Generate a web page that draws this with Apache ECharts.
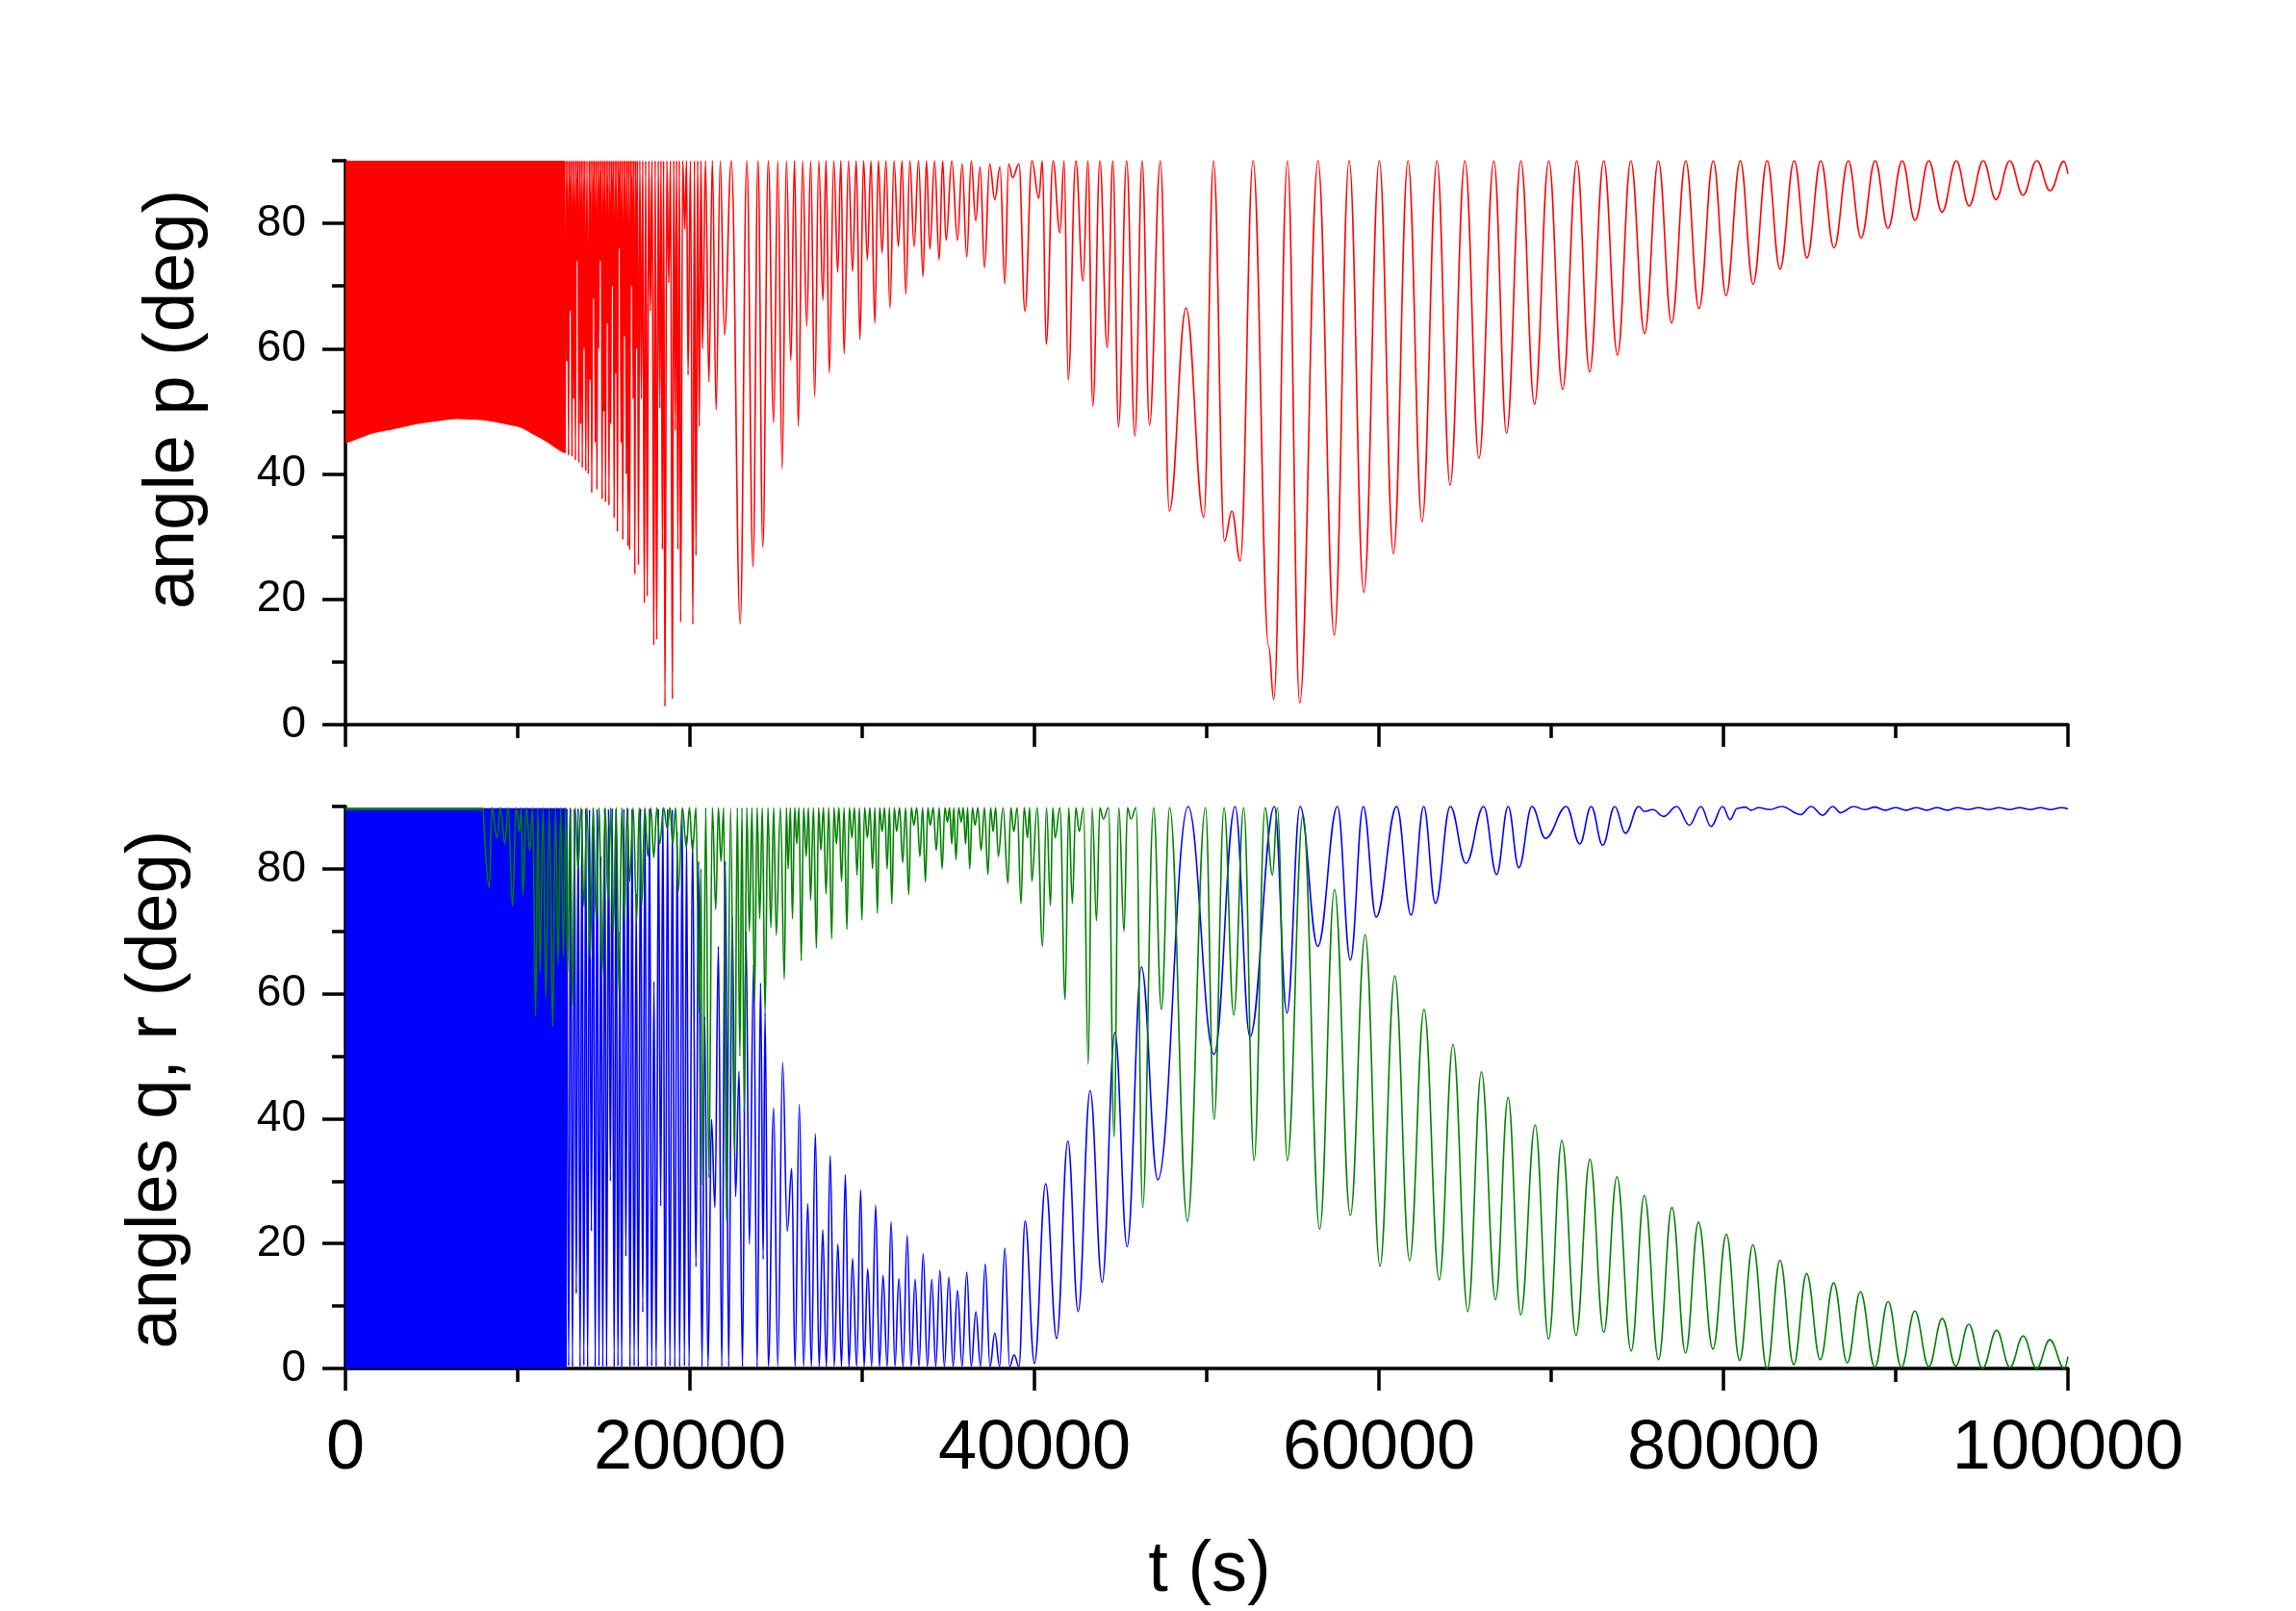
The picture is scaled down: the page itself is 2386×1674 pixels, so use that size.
<!DOCTYPE html>
<html><head><meta charset="utf-8">
<script src="https://cdn.jsdelivr.net/npm/echarts@6/dist/echarts.min.js"></script>
<style>html,body{margin:0;padding:0;background:#fff}#c{width:2386px;height:1674px}</style>
</head><body><div id="c"></div>
<script>
// ---- tick values ----
const xTicks = [0, 20000, 40000, 60000, 80000, 100000];
const yTicks = [0, 20, 40, 60, 80];
const yMinorTicks = [10, 30, 50, 70, 90];

// ---- angle p (red) ----
// lower envelope of the unresolved fast oscillation (fills up to 90)
const redBandLow = [0,45.0, 800,45.8, 1600,46.6, 2700,47.2, 4000,48.0, 5200,48.5, 6400,48.9, 7500,48.8, 8500,48.5, 9400,48.0, 10200,47.5, 11000,46.3, 11600,45.4, 12300,44.1, 12750,43.4];
// resolved extrema (t, value)
const redWave = [12750,43.4, 12800,90, 12850,58, 12900,90, 12950,43, 13000,90, 13050,66, 13100,90, 13150,42.8, 13200,90, 13250,52, 13300,90, 13350,42.2, 13400,90, 13450,74, 13500,90, 13550,41.8, 13600,90, 13650,48, 13700,90, 13750,41, 13800,90, 13850,60, 13900,90, 13950,40.5, 14020,90, 14100,40, 14150,90, 14200,55, 14250,90, 14300,37, 14350,90, 14400,68, 14450,90, 14500,45, 14550,90, 14600,37.5, 14650,90, 14700,60, 14750,90, 14800,74, 14850,90, 14900,36, 14950,90, 15000,50, 15050,90, 15100,35.5, 15150,90, 15200,64, 15250,90, 15300,35, 15350,90, 15400,48, 15450,90, 15500,70, 15550,90, 15600,33, 15650,90, 15700,56, 15745,90, 15790,30.8, 15845,90, 15900,76, 15950,90, 16000,45, 16050,90, 16100,29.5, 16150,90, 16200,62, 16250,90, 16300,40, 16350,90, 16400,28.5, 16450,90, 16500,27.9, 16550,90, 16600,70, 16650,90, 16700,52, 16750,90, 16800,24, 16850,90, 16900,60, 16955,90, 17010,25.5, 17090,90, 17180,52, 17260,90, 17350,19.4, 17430,90, 17520,20.5, 17610,90, 17700,66, 17800,90, 17900,12.7, 17980,90, 18070,13.6, 18160,90, 18250,50.5, 18320,90, 18400,28, 18470,90, 18550,2.9, 18660,90, 18770,70.5, 18870,90, 18980,4.1, 19060,90, 19150,47, 19220,90, 19300,28, 19380,90, 19460,16.4, 19580,90, 19700,79, 19800,90, 19890,55.8, 20030,90, 20170,16, 20260,90, 20350,27, 20450,90, 20540,47.6, 20640,90, 20730,60, 20900,90, 21100,54.7, 21300,90, 21520,50.2, 21760,90, 22000,62.2, 22400,90, 22920,16.1, 23300,90, 23660,25.2, 23950,90, 24230,28.3, 24550,90, 24860,48.2, 25100,90, 25350,40.8, 25600,90, 25860,58.1, 26070,90, 26290,47.6, 26540,90, 26780,63.6, 27010,90, 27240,52.3, 27480,90, 27720,67.7, 27900,90, 28090,56.1, 28350,90, 28580,72.2, 28760,90, 28950,59.2, 29200,90, 29440,72.3, 29650,90, 29870,61.5, 30080,90, 30300,74.2, 30510,90, 30730,64.1, 30940,90, 31150,75.3, 31380,90, 31610,66.5, 31850,90, 32100,76.3, 32310,90, 32530,68.7, 32770,90, 33010,76.3, 33270,90, 33530,71.5, 33730,90, 33930,75.9, 34200,90, 34470,74.2, 34670,90, 34870,77.3, 35200,90, 35530,77.3, 35800,89.5, 36070,74.6, 36330,90, 36590,80.4, 36850,89, 37100,72.9, 37400,89.5, 37700,83.8, 38000,89, 38280,70.3, 38500,89.5, 38730,87.3, 39100,89.5, 39450,66, 39850,90, 40250,84, 40460,90, 40680,60.7, 41080,90, 41480,78.5, 41720,90, 41960,55, 42400,90, 42820,70.8, 43100,90, 43390,50.9, 43800,90, 44220,60.2, 44550,90, 44880,47.5, 45350,90, 45830,46.1, 46250,90, 46680,47.8, 47310,90, 47830,34.1, 48800,66.5, 49830,33.1, 50400,90, 51030,29.3, 51460,34.1, 51950,26.1, 52690,90, 53600,12.5, 53890,4.0, 54690,90, 55400,3.5, 56460,90, 57410,14.3, 58270,90, 59120,21.1, 60020,90, 60840,27.3, 61690,90, 62500,32.4, 63370,90, 64130,38.2, 64990,90, 65810,42.5, 66670,90, 67410,46.5, 68240,90, 69030,51.1, 69860,90, 70660,53.5, 71490,90, 72230,56.3, 73050,90, 73850,59.0, 74620,90, 75420,62.4, 76220,90, 76990,64.1, 77810,90, 78580,66.4, 79410,90, 80150,68.5, 80980,90, 81720,70.3, 82540,90, 83280,72.7, 84110,90, 84850,74.5, 85650,90, 86420,76.1, 87250,90, 87990,77.7, 88810,90, 89550,79.2, 90380,90, 91120,80.5, 91920,90, 92690,81.8, 93520,90, 94260,82.8, 95080,90, 95820,83.8, 96620,90, 97390,84.5, 98190,90, 98960,85.2, 99760,89.9, 100000,87.9];

// ---- angle q (blue) ----
const blueBandTop = [0,89.6, 12850,89.6];
const blueWave = [12850,89.6, 12960,0.4, 13070,89.7, 13180,0.3, 13290,89.6, 13400,12, 13510,89.7, 13620,0.3, 13730,89.6, 13840,0.5, 13950,89.7, 14060,0.3, 14170,89.5, 14280,22, 14390,89.7, 14500,0.3, 14610,89.6, 14720,0.4, 14830,82, 14940,0.3, 15050,89.7, 15160,0.3, 15270,89.6, 15380,30, 15490,89.7, 15600,0.3, 15710,89.6, 15820,0.4, 15930,70, 16040,0.3, 16160,89.6, 16280,18, 16400,89.7, 16520,0.3, 16640,89.6, 16760,0.4, 16880,76, 17000,0.3, 17130,89.7, 17260,9, 17390,89.6, 17520,0.3, 17650,89.7, 17780,0.4, 17910,62, 18040,0.3, 18170,89.6, 18300,26, 18430,89.7, 18560,0.3, 18700,89.6, 18840,0.4, 18980,89.5, 19120,0.3, 19260,86, 19400,0.3, 19550,89.6, 19680,0.4, 19800,85.3, 19950,0.3, 20150,84.7, 20350,16.3, 20500,81.2, 20700,0.3, 20850,56.4, 21050,0.3, 21250,39.9, 21450,25.8, 21650,67.6, 21850,0.3, 22050,81.2, 22250,0.3, 22450,72.3, 22650,27.5, 22850,47.6, 23050,0.3, 23250,70, 23450,19.9, 23700,64.7, 23900,0.3, 24100,61.7, 24250,17.5, 24360,57, 24550,0.3, 24860,41.7, 25100,0.3, 25380,49, 25650,22, 25910,32, 26100,0.3, 26350,42.3, 26600,0.3, 26840,26.4, 27050,0.3, 27280,37.6, 27500,0.3, 27710,22.2, 27920,0.3, 28140,34.1, 28370,0.3, 28590,19.9, 28800,0.3, 29020,31, 29230,0.3, 29440,17.6, 29680,0.3, 29910,28.6, 30110,0.3, 30320,16, 30550,0.3, 30780,26.1, 31000,0.3, 31210,14.9, 31450,0.3, 31680,23.5, 31900,0.3, 32130,14.4, 32370,0.3, 32610,21.3, 32840,0.3, 33070,14.3, 33300,0.3, 33540,18.4, 33780,0.3, 34040,14.3, 34270,0.3, 34510,15.7, 34770,0.3, 35030,14.6, 35280,0.3, 35530,12.5, 35800,0.3, 36070,15.4, 36330,0.3, 36600,9.1, 36870,0.3, 37140,16.7, 37420,0.3, 37700,5.7, 37980,0.3, 38280,19.3, 38560,0.3, 38820,2.2, 39100,0.3, 39460,23.6, 40000,0.8, 40650,29.6, 41290,4.8, 41940,36.4, 42540,9.1, 43230,44.5, 43930,13.8, 44670,53.8, 45380,19.5, 46210,64.3, 47160,30.2, 48920,90, 50430,50.3, 51650,90, 52510,53.1, 53930,90, 54660,56.9, 55420,90, 56450,67.6, 57590,90, 58340,65.4, 59090,90, 59840,72.3, 61030,90, 61870,72.6, 62600,90, 63280,74.5, 64140,90, 65050,80.9, 66080,90, 66830,79.1, 67500,90, 68120,80.2, 68880,90, 69670,84.9, 70880,90, 71660,84, 72320,90, 72990,83.8, 73690,90, 74310,85.7, 75080,90, 75410,89.2, 75900,89.5, 76520,88.4, 77290,90, 78020,87, 78690,90, 79280,86.8, 79950,90, 80390,87.9, 80800,89.7, 81270,89.9, 81600,89.4, 82040,89.8, 82700,89.5, 83370,90, 84480,88.7, 85090,90, 85760,88.6, 86350,90, 86800,89, 87570,90, 88200,89.5, 88800,89.9, 89400,89.4, 90000,89.8, 90600,89.4, 91200,89.8, 91800,89.4, 92400,89.8, 93000,89.4, 93600,89.8, 94200,89.5, 94800,89.8, 95400,89.5, 96000,89.8, 96600,89.5, 97200,89.8, 97800,89.5, 98400,89.8, 99000,89.5, 99600,89.8, 100000,89.6];

// ---- angle r (green) ----
const greenFringe = [0,89.6, 8000,89.6];
const greenWave = [8000,89.6, 8350,77, 8500,89.8, 8800,85, 9000,89.8, 9250,84, 9450,89.8, 9700,74, 9900,89.8, 10100,86, 10200,89.8, 10300,75.9, 10500,89.8, 10700,83, 10870,89.8, 11040,56.4, 11170,89.8, 11300,63.5, 11470,89.8, 11640,59.4, 11830,89.8, 12030,54.7, 12190,89.8, 12350,64.7, 12500,89.8, 12650,66, 12780,89.8, 12900,63.5, 13040,89.8, 13180,58.2, 13340,89.8, 13500,80, 13680,89.8, 13850,74, 14030,89.8, 14210,65.9, 14380,89.8, 14550,72, 14730,89.8, 14900,62.9, 15080,89.8, 15250,75, 15400,89.8, 15550,70, 15720,89.8, 15880,60, 16040,89.8, 16200,72, 16350,89.8, 16500,78, 16700,89.8, 16910,71.8, 17050,89.8, 17200,74.1, 17380,89.8, 17550,82, 17730,89.8, 17900,81.8, 18080,89.8, 18250,84, 18470,89.8, 18680,86.5, 18840,89.8, 19000,84, 19170,89.8, 19330,76.5, 19560,89.8, 19790,83.5, 19970,89.8, 20150,83, 20350,89.8, 20540,57, 20640,80, 20730,29.3, 20920,89.8, 21100,30.5, 21300,89.8, 21500,73.5, 21650,89.8, 21800,81.2, 21960,89.8, 22120,23.4, 22360,89.8, 22590,34, 22750,89.8, 22900,50, 23020,89.8, 23150,41.1, 23300,89.8, 23450,70, 23600,89.8, 23750,58.8, 23900,89.8, 24050,72, 24200,89.8, 24360,57, 24530,89.8, 24700,70.6, 24860,89.8, 25010,69.4, 25250,89.8, 25480,62.3, 25600,89.8, 25700,80, 25830,89.8, 25950,72, 26080,89.8, 26200,84, 26330,89.8, 26460,65.3, 26600,89.8, 26750,82, 26880,89.8, 27000,75, 27170,89.8, 27340,67.3, 27470,89.8, 27600,83, 27750,89.8, 27900,76, 28060,89.8, 28230,68.8, 28360,89.8, 28500,84, 28650,89.8, 28800,78, 28950,89.8, 29110,70.3, 29250,89.8, 29400,85, 29550,89.8, 29700,79, 29840,89.8, 29980,71.8, 30140,89.8, 30300,85, 30450,89.8, 30600,80, 30740,89.8, 30880,72.9, 31010,89.8, 31150,86, 31300,89.8, 31450,80, 31580,89.8, 31720,74.4, 31860,89.8, 32000,86, 32170,89.8, 32350,81, 32520,89.8, 32700,75.9, 32850,89.8, 33000,87, 33170,89.8, 33350,82, 33510,89.8, 33670,77.9, 33810,89.8, 33950,87, 34120,89.8, 34300,83, 34470,89.8, 34640,80, 34800,89.8, 34950,87.5, 35070,89.8, 35200,84, 35320,89.8, 35440,81.5, 35600,89.8, 35750,87.5, 35870,89.8, 36000,84, 36120,89.8, 36240,80, 36400,89.8, 36550,87, 36720,89.8, 36900,83, 37100,89.8, 37300,79.1, 37450,89.8, 37600,86, 37750,89.8, 37900,82, 38180,89.8, 38460,77.7, 38630,89.8, 38800,86, 39000,89.8, 39220,74.4, 39400,89.8, 39600,85, 39720,89.8, 39850,78, 40150,89.8, 40470,67.6, 40700,89.8, 40930,74.1, 41060,89.8, 41200,85, 41480,89.8, 41780,59.1, 41990,89.8, 42200,74.5, 42400,89.8, 42600,86, 42850,89.8, 43120,48.7, 43350,89.8, 43600,71.7, 43800,89.8, 44000,88, 44300,89.8, 44620,37.1, 44900,89.8, 45200,70, 45400,89.8, 45600,88, 45900,89.8, 46280,25.8, 46920,89.8, 47370,57.5, 47850,89.8, 48880,23.6, 49930,89.8, 50430,39.9, 51010,89.8, 51570,56.6, 52150,89.8, 52750,33.3, 53390,89.8, 53820,79, 54100,89.8, 54680,33.3, 55590,88.7, 56560,22.3, 57420,76.7, 58340,24.5, 59200,69.5, 60060,16.4, 60920,62.9, 61780,17.3, 62620,57.5, 63500,14.2, 64300,51.9, 65160,9.1, 65950,47.5, 66770,11, 67500,43.4, 68230,8.6, 69070,39, 69850,4.7, 70620,36.5, 71440,5.3, 72250,33.5, 73050,5.8, 73820,30.7, 74640,2.8, 75410,27.7, 76230,1.4, 77010,25.8, 77800,2.5, 78550,23.4, 79390,3.1, 80170,21.5, 80940,1.3, 81710,19.8, 82530,0, 83280,17.3, 84080,0.6, 84830,15.2, 85620,1.4, 86400,13.7, 87190,0.9, 87950,12.3, 88790,0.2, 89560,10.7, 90330,0.2, 91110,9.2, 91920,0.3, 92700,8, 93490,0.4, 94240,7.1, 95040,0, 95860,6.1, 96630,0.2, 97400,5.2, 98180,0, 98950,4.6, 99790,0, 100000,1.9];

// ---- texts ----
const titleTop = 'angle p (deg)';
const titleBottom = 'angles q, r (deg)';
const titleX = 't (s)';

function pairs(a) { const r = []; for (let i = 0; i < a.length; i += 2) r.push([a[i], a[i + 1]]); return r; }

const FONT = '"Liberation Sans", Arial, Helvetica, sans-serif';
const AXW = 3.5;
const RED = '#ff0000', BLUE = '#0000ff', GREEN = '#008000';
const LW = 1.6;

function xAxis(gridIndex, labels) {
  return {
    type: 'value', gridIndex, min: 0, max: 100000, interval: 20000,
    axisLine: { show: true, onZero: false, lineStyle: { color: '#000', width: AXW } },
    axisTick: { show: true, length: 23, lineStyle: { color: '#000', width: AXW } },
    minorTick: { show: true, splitNumber: 2, length: 14, lineStyle: { color: '#000', width: AXW } },
    axisLabel: { show: labels, fontSize: 72, fontFamily: FONT, color: '#000', margin: 48, formatter: v => String(v) },
    splitLine: { show: false }, minorSplitLine: { show: false }
  };
}
function yAxisMain(gridIndex) {
  return {
    type: 'value', gridIndex, min: 0, max: 90, position: 'left',
    axisLine: { show: true, onZero: false, lineStyle: { color: '#000', width: AXW } },
    axisTick: { show: true, customValues: yTicks, length: 24, lineStyle: { color: '#000', width: AXW } },
    axisLabel: { show: true, customValues: yTicks, fontSize: 46, fontFamily: FONT, color: '#000', margin: 41, formatter: v => String(v) },
    splitLine: { show: false }
  };
}
function yAxisMinor(gridIndex) {
  return {
    type: 'value', gridIndex, min: 0, max: 90, position: 'left', offset: 0,
    axisLine: { show: false },
    axisTick: { show: true, customValues: yMinorTicks, length: 14, lineStyle: { color: '#000', width: AXW } },
    axisLabel: { show: false },
    splitLine: { show: false }
  };
}
function wave(data, color, xi, yi) {
  return {
    type: 'line', data: pairs(data), xAxisIndex: xi, yAxisIndex: yi,
    showSymbol: false, symbol: 'none', smooth: 0.4, smoothMonotone: 'x',
    lineStyle: { color, width: LW }, itemStyle: { color }, silent: true
  };
}

const chart = echarts.init(document.getElementById('c'), null, { renderer: 'canvas' });
chart.setOption({
  animation: false,
  backgroundColor: '#fff',
  grid: [
    { left: 359, right: 237, top: 167, height: 586 },
    { left: 359, right: 237, top: 838, height: 584 }
  ],
  xAxis: [xAxis(0, false), xAxis(1, true)],
  yAxis: [yAxisMain(0), yAxisMinor(0), yAxisMain(1), yAxisMinor(1)],
  series: [
    {
      type: 'line', data: pairs(redBandLow), xAxisIndex: 0, yAxisIndex: 0, showSymbol: false, symbol: 'none',
      smooth: 0.3, lineStyle: { color: RED, width: LW }, areaStyle: { color: RED, opacity: 1, origin: 'end' }, silent: true
    },
    wave(redWave, RED, 0, 0),
    {
      type: 'line', data: pairs(blueBandTop), xAxisIndex: 1, yAxisIndex: 2, showSymbol: false, symbol: 'none',
      lineStyle: { color: BLUE, width: LW }, areaStyle: { color: BLUE, opacity: 1, origin: 'start' }, silent: true
    },
    wave(blueWave, BLUE, 1, 2),
    {
      type: 'line', data: pairs(greenFringe), xAxisIndex: 1, yAxisIndex: 2, showSymbol: false, symbol: 'none',
      lineStyle: { color: GREEN, width: 2.5 }, silent: true
    },
    wave(greenWave, GREEN, 1, 2)
  ],
  graphic: [
    { type: 'text', x: 181, y: 415, rotation: Math.PI / 2, style: { text: titleTop, fontSize: 74, fontFamily: FONT, fill: '#000', align: 'center', verticalAlign: 'middle' } },
    { type: 'text', x: 163, y: 1132, rotation: Math.PI / 2, style: { text: titleBottom, fontSize: 74, fontFamily: FONT, fill: '#000', align: 'center', verticalAlign: 'middle' } },
    { type: 'text', x: 1257, y: 1633, style: { text: titleX, fontSize: 74, fontFamily: FONT, fill: '#000', align: 'center', verticalAlign: 'middle' } }
  ]
});
</script>
</body></html>
